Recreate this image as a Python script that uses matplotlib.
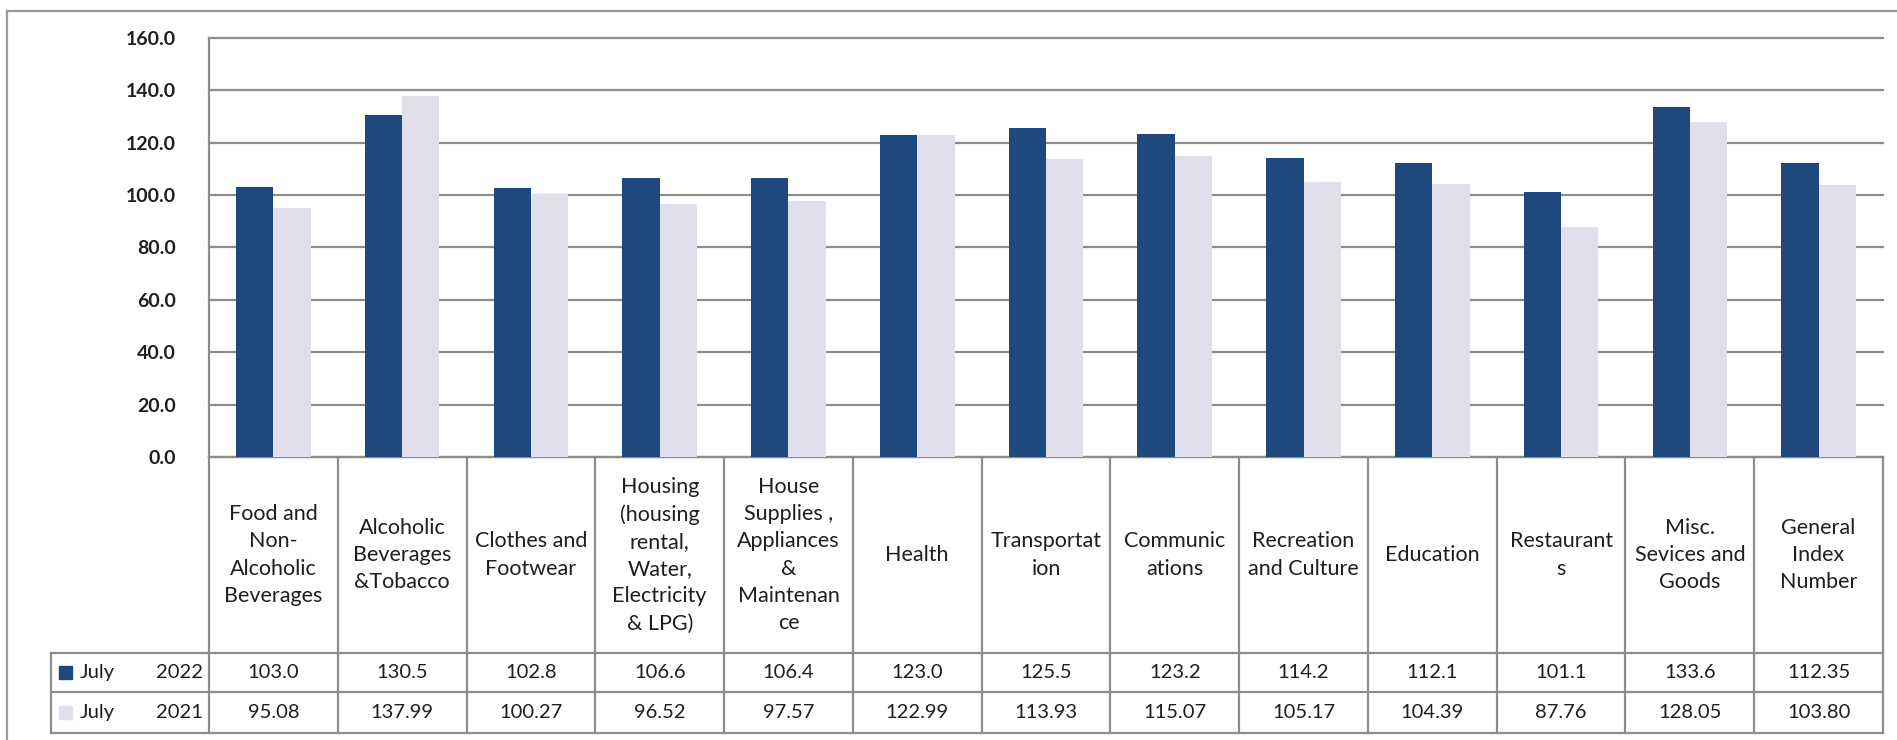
import numpy as np
import matplotlib
matplotlib.use('Agg')
import matplotlib.pyplot as plt
import matplotlib.transforms as mtransforms
from matplotlib.lines import Line2D
from matplotlib.patches import Rectangle

categories = ['Food and\nNon-\nAlcoholic\nBeverages', 'Alcoholic\nBeverages\n&Tobacco',
              'Clothes and\nFootwear', 'Housing\n(housing\nrental,\nWater,\nElectricity\n& LPG)',
              'House\nSupplies ,\nAppliances\n&\nMaintenan\nce', 'Health', 'Transportat\nion',
              'Communic\nations', 'Recreation\nand Culture', 'Education', 'Restaurant\ns',
              'Misc.\nSevices and\nGoods', 'General\nIndex\nNumber']
july_2022 = [103.0, 130.5, 102.8, 106.6, 106.4, 123.0, 125.5, 123.2, 114.2, 112.1, 101.1, 133.6, 112.35]
july_2021 = [95.08, 137.99, 100.27, 96.52, 97.57, 122.99, 113.93, 115.07, 105.17, 104.39, 87.76, 128.05, 103.80]
decimals_2022 = [1, 1, 1, 1, 1, 1, 1, 1, 1, 1, 1, 1, 2]
decimals_2021 = [2] * 13
series_names = [('July', '2022'), ('July', '2021')]
y_ticks = [0, 20, 40, 60, 80, 100, 120, 140, 160]

dark = '#1F497D'
light = '#E2DEEB'
grid_c = '#8C8C8C'
txt_c = '#1E1E1E'
FONT = 'Lato'

W, H = 1897, 740
fig = plt.figure(figsize=(W / 100, H / 100), dpi=100)

# pixel layout
px_left, px_right = 209, 1883
px_top, px_zero = 38, 457
row_cat, row1, row2 = 653, 692, 733
leg_left = 51

ax = fig.add_axes([px_left / W, 1 - px_zero / H, (px_right - px_left) / W, (px_zero - px_top) / H])
x = np.arange(len(categories))
bw = 0.29
ax.bar(x - bw / 2, july_2022, bw, color=dark, zorder=3)
ax.bar(x + bw / 2, july_2021, bw, color=light, zorder=3)
ax.set_xlim(-0.5, len(categories) - 0.5)
ax.set_ylim(0, 160)
ax.set_yticks(y_ticks)
ax.set_yticklabels([f'{t:.1f}' for t in y_ticks], fontweight='bold', fontsize=14, family=FONT, color=txt_c)
ax.tick_params(axis='y', length=0, pad=24)
ax.set_xticks([])
for s in ['top', 'right']:
    ax.spines[s].set_visible(False)
for s in ['left', 'bottom']:
    ax.spines[s].set_color(grid_c)
    ax.spines[s].set_linewidth(1.6)
ax.yaxis.grid(True, color=grid_c, linewidth=1.6)
for gl in ax.get_ygridlines():
    gl.set_clip_on(False)
ax.set_axisbelow(True)
ax.patch.set_alpha(0)

# overlay in pixel coords for the data table
tab = fig.add_axes([0, 0, 1, 1], zorder=-1)
tab.set_xlim(0, W)
tab.set_ylim(H, 0)
tab.axis('off')
bt = mtransforms.blended_transform_factory(ax.transData, tab.transData)

lkw = dict(color=grid_c, linewidth=1.6)
# outer chart border
tab.add_line(Line2D([7, 7], [11, H], color='#9A9A9A', linewidth=1.6))
tab.add_line(Line2D([7, W], [11, 11], color='#9A9A9A', linewidth=1.6))

# table grid
tab.add_line(Line2D([px_left, px_right], [row_cat, row_cat], **lkw))
tab.add_line(Line2D([leg_left, px_left], [row_cat, row_cat], **lkw))
for yy in [row1, row2]:
    tab.add_line(Line2D([leg_left, px_right], [yy, yy], **lkw))
tab.add_line(Line2D([leg_left, leg_left], [row_cat, row2], **lkw))
tab.add_line(Line2D([px_left, px_left], [px_zero, row2], **lkw))
for i in range(len(categories)):
    tab.add_line(Line2D([i + 0.5, i + 0.5], [px_zero, row2], transform=bt, **lkw))

tkw = dict(family=FONT, color=txt_c, ha='center', va='center')
for i, lab in enumerate(categories):
    tab.text(i, (px_zero + row_cat) / 2, lab, transform=bt, fontsize=15.5, linespacing=1.45, **tkw)
for i in range(len(categories)):
    tab.text(i, (row_cat + row1) / 2, f'{july_2022[i]:.{decimals_2022[i]}f}', transform=bt, fontsize=14.5, **tkw)
    tab.text(i, (row1 + row2) / 2, f'{july_2021[i]:.{decimals_2021[i]}f}', transform=bt, fontsize=14.5, **tkw)

# legend keys in the row headers
for (month, year), col, (ya, yb) in zip(series_names, [dark, light], [(row_cat, row1), (row1, row2)]):
    yc = (ya + yb) / 2
    tab.add_patch(Rectangle((59, yc - 6.5), 13, 13, color=col))
    tab.text(80, yc, month, family=FONT, fontsize=14.5, color=txt_c, ha='left', va='center')
    tab.text(203, yc, year, family=FONT, fontsize=14.5, color=txt_c, ha='right', va='center')

fig.savefig('out.png', dpi=100, facecolor='white')
